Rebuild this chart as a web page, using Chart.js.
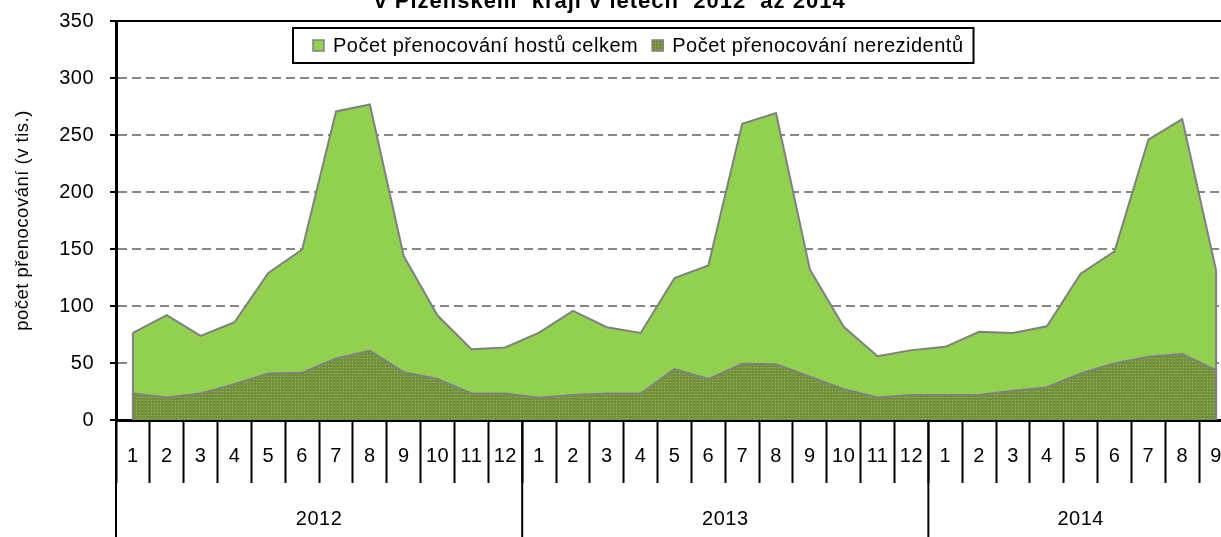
<!DOCTYPE html>
<html><head><meta charset="utf-8">
<script src="https://cdn.jsdelivr.net/npm/chart.js@4.4.1/dist/chart.umd.min.js"></script>
<style>
html,body{margin:0;padding:0;background:#fff;overflow:hidden;width:1221px;height:537px}
#wrap{position:absolute;left:0;top:0;width:1240px;height:540px}
</style>
</head><body>
<div id="wrap"><canvas id="c" width="1240" height="540"></canvas></div>
<script>
const titleText = 'v Plzeňském  kraji v letech  2012  až 2014';
const yTitle = 'počet přenocování (v tis.)';
const months = ['1','2','3','4','5','6','7','8','9','10','11','12',
                '1','2','3','4','5','6','7','8','9','10','11','12',
                '1','2','3','4','5','6','7','8','9'];
const years = ['2012','2013','2014'];
const yearMonthCounts = [12,12,9];
const seriesNames = ['Počet přenocování hostů celkem','Počet přenocování nerezidentů'];
const totalGuests = [76.4, 91.9, 73.8, 85.7, 128.9, 149.6, 270.7, 276.8, 143.8, 91.6, 62.1, 63.6,
                     76.7, 95.7, 81.4, 76.4, 124.5, 135.6, 259.9, 269.2, 132.1, 81.7, 56.0, 61.3,
                     64.2, 77.3, 76.4, 82.2, 128.3, 147.9, 245.9, 264.0, 131.3];
const nonResidents = [23.3, 19.8, 23.3, 31.5, 40.8, 41.4, 54.0, 60.7, 42.0, 35.9, 23.3, 23.3,
                      19.5, 21.9, 23.3, 23.3, 44.6, 35.9, 49.3, 49.0, 37.9, 27.0, 19.8, 21.9,
                      21.9, 21.9, 25.7, 28.6, 40.8, 49.6, 55.4, 57.8, 43.8];
const yMin = 0, yMax = 350, yStep = 50;

const FONT = "'Liberation Sans', Arial, Helvetica, sans-serif";
Chart.defaults.font.family = FONT;
Chart.defaults.color = '#000';
const LS = '0.5px';

const canvas = document.getElementById('c');
const mainCtx = canvas.getContext('2d');
function makePattern(){
  const p = document.createElement('canvas'); p.width = 3; p.height = 3;
  const g = p.getContext('2d');
  g.fillStyle = '#73913a'; g.fillRect(0,0,3,3);
  g.fillStyle = '#9cc060'; g.fillRect(1,1,1,1);
  return mainCtx.createPattern(p, 'repeat');
}
const darkFill = makePattern();
const lightFill = '#92D050';
const edgeColor = '#808080';

const spacing = {
  id: 'spacing',
  beforeUpdate(c){ c.ctx.letterSpacing = LS; },
  beforeLayout(c){ c.ctx.letterSpacing = LS; },
  beforeDraw(c){ c.ctx.letterSpacing = LS; }
};

const decor = {
  id: 'decor',
  afterDatasetsDraw(chart){
    const ctx = chart.ctx, ys = chart.scales.y;
    const y0 = ys.getPixelForValue(0);
    ctx.save();
    ctx.strokeStyle = edgeColor; ctx.lineWidth = 2;
    chart.data.datasets.forEach((ds, i) => {
      const pts = chart.getDatasetMeta(i).data;
      [pts[0], pts[pts.length-1]].forEach(p => {
        ctx.beginPath(); ctx.moveTo(p.x, p.y); ctx.lineTo(p.x, y0); ctx.stroke();
      });
    });
    ctx.restore();
  },
  afterDraw(chart){
    const ctx = chart.ctx, xs = chart.scales.x, ys = chart.scales.y, a = chart.chartArea;
    ctx.save();
    ctx.letterSpacing = LS;
    // top border line (350)
    ctx.strokeStyle = '#000'; ctx.lineWidth = 2;
    const yt = ys.getPixelForValue(yMax);
    ctx.beginPath(); ctx.moveTo(a.left - 6, yt); ctx.lineTo(a.right, yt); ctx.stroke();
    // y axis extension below
    ctx.beginPath(); ctx.moveTo(a.left, a.bottom); ctx.lineTo(a.left, chart.height); ctx.stroke();
    // year groups
    const cw = (a.right - a.left) / months.length;
    let idx = 0;
    ctx.font = '20px ' + FONT; ctx.fillStyle = '#000';
    ctx.textAlign = 'center'; ctx.textBaseline = 'middle';
    years.forEach((yr, k) => {
      const n = yearMonthCounts[k];
      const s = xs.getPixelForValue(idx) - cw/2;
      const e = xs.getPixelForValue(idx + n - 1) + cw/2;
      ctx.beginPath(); ctx.moveTo(e, a.bottom); ctx.lineTo(e, chart.height); ctx.stroke();
      ctx.fillText(yr, (s + e)/2, 519);
      idx += n;
    });
    // legend
    ctx.font = '20px ' + FONT;
    const bx = 293, by = 28, bh = 35;
    const sq = 11;
    let x = 313;
    const items = [];
    chart.data.datasets.forEach((ds) => {
      items.push({x, fill: ds.backgroundColor, label: ds.label});
      x += sq + 9 + ctx.measureText(ds.label).width + 14;
    });
    const bw = x - 14 + 10 - bx;
    ctx.fillStyle = '#fff'; ctx.fillRect(bx, by, bw, bh);
    ctx.strokeStyle = '#000'; ctx.lineWidth = 2; ctx.strokeRect(bx, by, bw, bh);
    const cy = by + bh/2;
    items.forEach(it => {
      ctx.fillStyle = it.fill; ctx.fillRect(it.x, cy - sq/2, sq, sq);
      ctx.strokeStyle = edgeColor; ctx.lineWidth = 1.5; ctx.strokeRect(it.x, cy - sq/2, sq, sq);
      ctx.fillStyle = '#000'; ctx.textAlign = 'left'; ctx.textBaseline = 'middle';
      ctx.fillText(it.label, it.x + sq + 9, cy + 1);
    });
    // title (only last line visible)
    ctx.letterSpacing = '1px';
    ctx.font = 'bold 22px ' + FONT;
    ctx.textAlign = 'center'; ctx.textBaseline = 'alphabetic';
    ctx.fillText(titleText, 610, 8);
    ctx.restore();
  }
};

new Chart(canvas, {
  type: 'line',
  data: {
    labels: months,
    datasets: [
      {label: seriesNames[0], data: totalGuests, fill: 'origin', backgroundColor: lightFill,
       borderColor: edgeColor, borderWidth: 2, pointRadius: 0, tension: 0, order: 2},
      {label: seriesNames[1], data: nonResidents, fill: 'origin', backgroundColor: darkFill,
       borderColor: edgeColor, borderWidth: 2, pointRadius: 0, tension: 0, order: 1}
    ]
  },
  options: {
    responsive: false,
    devicePixelRatio: 1,
    animation: false,
    layout: {padding: {top: 21, right: 7, bottom: 0, left: 0}},
    plugins: {legend: {display: false}, tooltip: {enabled: false}, title: {display: false}},
    scales: {
      x: {
        type: 'category', offset: true,
        grid: {offset: true, drawOnChartArea: false, drawTicks: true, tickLength: 63,
               tickColor: '#000', tickWidth: 2, color: '#000'},
        border: {color: '#000', width: 3},
        ticks: {autoSkip: false, maxRotation: 0, minRotation: 0, padding: -39,
                font: {size: 20}, color: '#000'},
        afterFit(s){ s.height = 120; s.paddingLeft = 0; s.paddingRight = 0; }
      },
      y: {
        min: yMin, max: yMax,
        ticks: {stepSize: yStep, padding: 16, font: {size: 20}, color: '#000'},
        grid: {color: (c) => (c.tick.value === yMin || c.tick.value === yMax) ? 'rgba(0,0,0,0)' : '#868686',
               lineWidth: 2, tickColor: '#000', tickLength: 6, tickWidth: 2, tickBorderDash: []},
        border: {color: '#000', width: 3, dash: [9, 5]},
        title: {display: true, text: yTitle, font: {size: 18.5}, color: '#000', padding: {top: 12, bottom: 0}},
        afterFit(s){ s.width = 116; s.paddingTop = 0; s.paddingBottom = 0; }
      }
    }
  },
  plugins: [spacing, decor]
});
</script>
</body></html>
